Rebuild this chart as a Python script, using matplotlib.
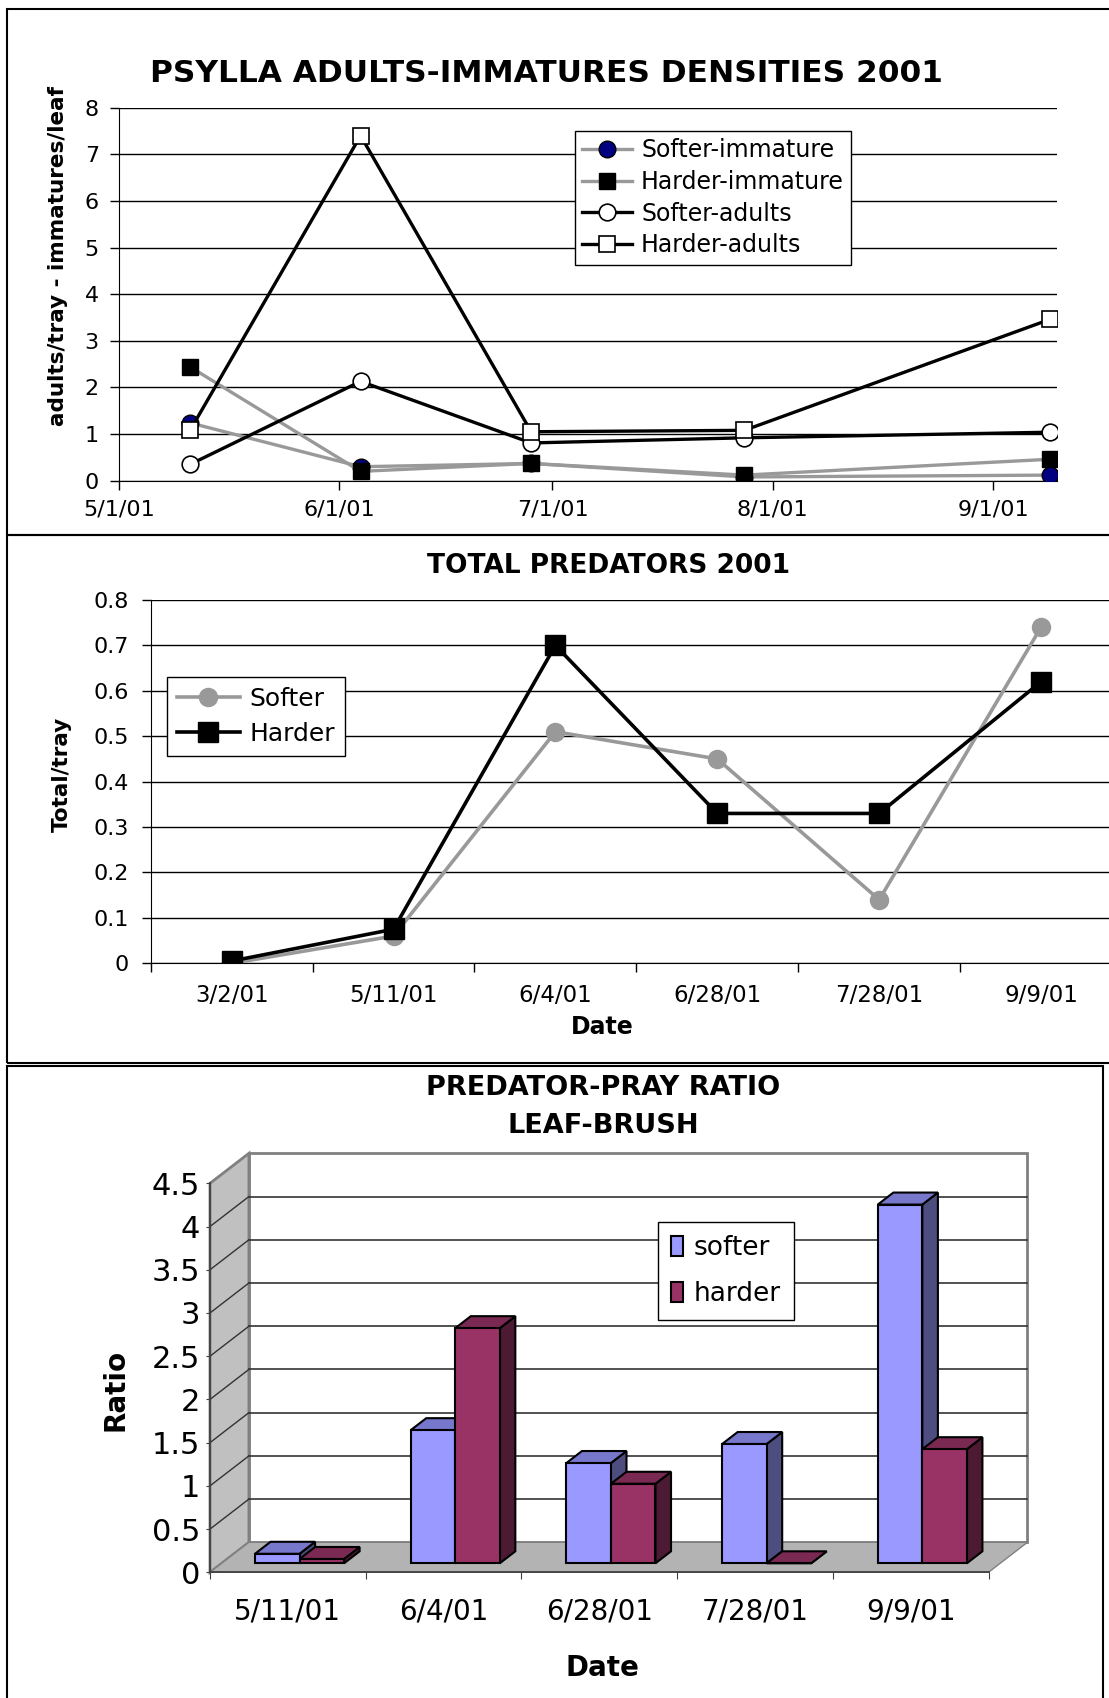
import numpy as np
import matplotlib
matplotlib.use("Agg")
import matplotlib.pyplot as plt
import matplotlib.dates as mdates
from matplotlib.patches import Polygon, Rectangle
from matplotlib.ticker import FuncFormatter
from datetime import datetime

# ---- datos ----
fechas1 = ["5/11/01", "6/4/01", "6/28/01", "7/28/01", "9/9/01"]
softer_imm = [1.24, 0.30, 0.37, 0.08, 0.12]
harder_imm = [2.44, 0.20, 0.37, 0.12, 0.46]
softer_adu = [0.35, 2.13, 0.81, 0.92, 1.04]
harder_adu = [1.08, 7.40, 1.05, 1.08, 3.46]

fechas2 = ["3/2/01", "5/11/01", "6/4/01", "6/28/01", "7/28/01", "9/9/01"]
softer_pred = [0.0, 0.06, 0.51, 0.45, 0.14, 0.74]
harder_pred = [0.005, 0.075, 0.70, 0.33, 0.33, 0.62]

fechas3 = ["5/11/01", "6/4/01", "6/28/01", "7/28/01", "9/9/01"]
softer_ratio = [0.11, 1.54, 1.16, 1.38, 4.15]
harder_ratio = [0.05, 2.72, 0.92, 0.0, 1.32]

W, H = 1109, 1698
GRIS = "#999999"

fig = plt.figure(figsize=(W / 100, H / 100), dpi=100)


def fx(x):
    return x / W


def fy(y):
    return 1 - y / H


def ejes(left, top, right, bottom):
    return fig.add_axes([fx(left), fy(bottom), (right - left) / W, (bottom - top) / H])


def marco(left, top, right, bottom):
    fig.add_artist(Rectangle((fx(left), fy(bottom)), (right - left) / W, (bottom - top) / H,
                             transform=fig.transFigure, fill=False, ec="black", lw=1.5))


def fecha(v, pos):
    d = mdates.num2date(v)
    return f"{d.month}/{d.day}/{d:%y}"


# ---- panel 1 ----
marco(7, 9, 1125, 535)
ax1 = ejes(119, 107.7, 1057, 480.7)
d1 = [datetime.strptime(s, "%m/%d/%y") for s in fechas1]
ax1.plot(d1, softer_imm, color=GRIS, lw=2.4, marker="o", ms=12, mfc="#000080", mec="black", mew=1,
         label="Softer-immature", zorder=3)
ax1.plot(d1, harder_imm, color=GRIS, lw=2.4, marker="s", ms=12, mfc="black", mec="black",
         label="Harder-immature", zorder=3)
ax1.plot(d1, softer_adu, color="black", lw=2.4, marker="o", ms=12, mfc="white", mec="black", mew=1.2,
         label="Softer-adults", zorder=4)
ax1.plot(d1, harder_adu, color="black", lw=2.4, marker="s", ms=12, mfc="white", mec="black", mew=1.2,
         label="Harder-adults", zorder=4)
ax1.set_xlim(datetime(2001, 5, 1), datetime(2001, 9, 10))
ax1.set_ylim(0, 8)
ax1.set_yticks(range(9))
ax1.xaxis.set_major_locator(mdates.MonthLocator())
ax1.xaxis.set_major_formatter(FuncFormatter(fecha))
ax1.grid(axis="y", color="black", lw=1)
ax1.set_axisbelow(True)
for s in ["top", "right"]:
    ax1.spines[s].set_visible(False)
ax1.tick_params(axis="both", labelsize=16, length=6.5, width=1)
ax1.tick_params(axis="x", pad=7)
ax1.tick_params(axis="y", pad=8)
ax1.legend(loc="upper left", bbox_to_anchor=(fx(575), fy(131)), bbox_transform=fig.transFigure,
           borderaxespad=0, fancybox=False, edgecolor="black", framealpha=1, fontsize=17,
           handlelength=2.1, handletextpad=0.4, labelspacing=0.33, borderpad=0.3)
fig.text(fx(546), fy(74), "PSYLLA ADULTS-IMMATURES DENSITIES 2001", ha="center", va="center",
         fontsize=22.5, fontweight="bold")
fig.text(fx(58), fy(256), "adults/tray - immatures/leaf", ha="center", va="center", rotation=90,
         fontsize=15.5, fontweight="bold")

# ---- panel 2 ----
marco(7, 535, 1125, 1063)
ax2 = ejes(150.7, 600, 1122, 963.3)
x2 = np.arange(len(fechas2))
ax2.plot(x2, softer_pred, color=GRIS, lw=2.6, marker="o", ms=13, mfc=GRIS, mec=GRIS,
         label="Softer", zorder=3)
ax2.plot(x2, harder_pred, color="black", lw=2.6, marker="s", ms=14, mfc="black", mec="black",
         label="Harder", zorder=4)
ax2.set_xlim(-0.5, len(fechas2) - 0.5)
ax2.set_ylim(0, 0.8)
ax2.set_yticks(np.arange(0, 0.81, 0.1))
ax2.yaxis.set_major_formatter(FuncFormatter(lambda v, p: f"{v:.1f}" if v > 0 else "0"))
ax2.set_xticks(np.arange(-0.5, len(fechas2), 1))
ax2.set_xticklabels([])
ax2.set_xticks(x2, minor=True)
ax2.set_xticklabels(fechas2, minor=True)
ax2.grid(axis="y", color="black", lw=1)
ax2.set_axisbelow(True)
for s in ["top", "right"]:
    ax2.spines[s].set_visible(False)
ax2.tick_params(axis="both", which="major", labelsize=16, length=6.5, width=1)
ax2.tick_params(axis="y", pad=9)
ax2.tick_params(axis="x", which="minor", length=0, labelsize=16.5, pad=15)
ax2.legend(loc="upper left", bbox_to_anchor=(fx(167), fy(677)), bbox_transform=fig.transFigure,
           borderaxespad=0, fancybox=False, edgecolor="black", framealpha=1, fontsize=18,
           handlelength=2.5, handletextpad=0.4, labelspacing=0.45, borderpad=0.4)
fig.text(fx(609), fy(566), "TOTAL PREDATORS 2001", ha="center", va="center",
         fontsize=19, fontweight="bold")
fig.text(fx(62), fy(774), "Total/tray", ha="center", va="center", rotation=90,
         fontsize=15.5, fontweight="bold")
fig.text(fx(602), fy(1027), "Date", ha="center", va="center", fontsize=17, fontweight="bold")

# ---- panel 3 (barras 3D) ----
marco(7, 1066, 1103, 1720)
ax3 = ejes(210, 1183.3, 988.5, 1572.3)
n3 = len(fechas3)
vmax = 4.5
DX, DY = 0.25, 0.347          # profundidad del piso en unidades de datos
d0, d1b = 0.3, 0.7            # profundidad de las barras
w = 0.286
ax3.set_xlim(0, n3)
ax3.set_ylim(0, vmax)

# paredes y piso
ax3.add_patch(Polygon([(DX, DY), (n3 + DX, DY), (n3 + DX, vmax + DY), (DX, vmax + DY)],
                      closed=True, fc="white", ec="#808080", lw=2, clip_on=False, zorder=0))
ax3.add_patch(Polygon([(0, 0), (DX, DY), (DX, vmax + DY), (0, vmax)],
                      closed=True, fc="#C0C0C0", ec="#808080", lw=2, clip_on=False, zorder=0))
ax3.add_patch(Polygon([(0, 0), (n3, 0), (n3 + DX, DY), (DX, DY)],
                      closed=True, fc="#B3B3B3", ec="#808080", lw=1, clip_on=False, zorder=0.5))
yt3 = np.arange(0, vmax + 0.01, 0.5)
for v in yt3[1:-1]:
    ax3.plot([DX, n3 + DX], [v + DY, v + DY], color="#333333", lw=1.2, clip_on=False, zorder=0.6)
for v in yt3[1:-1]:
    ax3.plot([0, DX], [v, v + DY], color="#333333", lw=1, clip_on=False, zorder=0.6)

estilos = [("#9999FF", "#7777CC", "#4D4D80"), ("#993366", "#7A2952", "#4D1A33")]
series = [softer_ratio, harder_ratio]
frentes = []
for i in range(n3):
    for j, vals in enumerate(series):
        v = vals[i]
        c_fr, c_top, c_lado = estilos[j]
        x0 = i + 0.5 - w + j * w + d0 * DX
        y0 = d0 * DY
        ddx, ddy = (d1b - d0) * DX, (d1b - d0) * DY
        lado = Polygon([(x0 + w, y0), (x0 + w + ddx, y0 + ddy), (x0 + w + ddx, y0 + v + ddy), (x0 + w, y0 + v)],
                       closed=True, fc=c_lado, ec="black", lw=1.5, clip_on=False, zorder=2 + i + 0.1 * j)
        techo = Polygon([(x0, y0 + v), (x0 + w, y0 + v), (x0 + w + ddx, y0 + v + ddy), (x0 + ddx, y0 + v + ddy)],
                        closed=True, fc=c_top, ec="black", lw=1.5, clip_on=False, zorder=2 + i + 0.1 * j)
        frente = Polygon([(x0, y0), (x0 + w, y0), (x0 + w, y0 + v), (x0, y0 + v)],
                         closed=True, fc=c_fr, ec="black", lw=1.5, clip_on=False, zorder=2.05 + i + 0.1 * j)
        for p in (lado, techo, frente):
            ax3.add_patch(p)
        if i == 0:
            frentes.append(frente)

ax3.set_yticks(yt3)
ax3.yaxis.set_major_formatter(FuncFormatter(lambda v, p: f"{v:g}"))
ax3.set_xticks(np.arange(0, n3 + 1))
ax3.set_xticklabels([])
ax3.set_xticks(np.arange(n3) + 0.5, minor=True)
ax3.set_xticklabels(fechas3, minor=True)
for s in ["top", "right"]:
    ax3.spines[s].set_visible(False)
for s in ["left", "bottom"]:
    ax3.spines[s].set_color("#404040")
    ax3.spines[s].set_linewidth(1.3)
    ax3.spines[s].set_zorder(1)
ax3.patch.set_visible(False)
ax3.tick_params(axis="y", labelsize=22, length=3, pad=4, color="#404040")
ax3.tick_params(axis="x", which="major", length=5, color="#404040")
ax3.tick_params(axis="x", which="minor", length=0, labelsize=20, pad=18)
ax3.legend(frentes, ["softer", "harder"], loc="upper left", bbox_to_anchor=(fx(658), fy(1222)),
           bbox_transform=fig.transFigure, borderaxespad=0, fancybox=False, edgecolor="black",
           framealpha=1, fontsize=19, handlelength=0.45, handleheight=0.8, handletextpad=0.4,
           labelspacing=0.75, borderpad=0.5)
fig.text(fx(603), fy(1088), "PREDATOR-PRAY RATIO", ha="center", va="center",
         fontsize=19.5, fontweight="bold")
fig.text(fx(603), fy(1126), "LEAF-BRUSH", ha="center", va="center", fontsize=19.5, fontweight="bold")
fig.text(fx(116), fy(1390), "Ratio", ha="center", va="center", rotation=90,
         fontsize=20, fontweight="bold")
fig.text(fx(602), fy(1668), "Date", ha="center", va="center", fontsize=20, fontweight="bold")

fig.savefig("out.png", dpi=100)
